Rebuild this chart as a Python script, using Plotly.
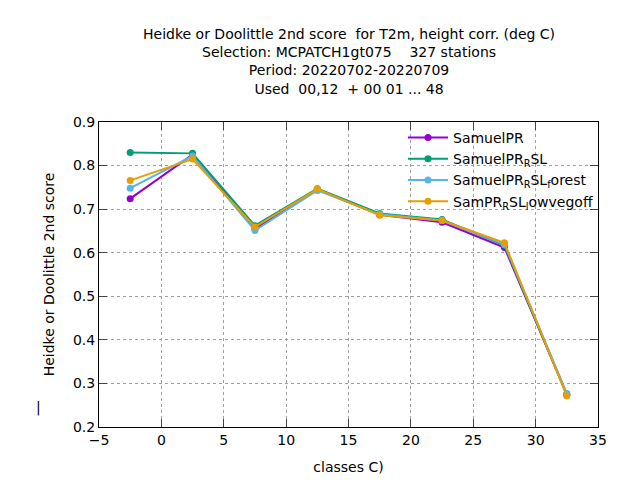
import plotly.graph_objects as go

classes = [-2.5, 2.5, 7.5, 12.5, 17.5, 22.5, 27.5, 32.5]
samuel_pr = [0.724, 0.825, 0.655, 0.745, 0.687, 0.670, 0.612, 0.275]
samuel_pr_rsl = [0.830, 0.828, 0.662, 0.747, 0.690, 0.676, 0.617, 0.273]
samuel_pr_rsl_forest = [0.748, 0.822, 0.651, 0.743, 0.688, 0.674, 0.619, 0.277]
sampr_rsl_lowvegoff = [0.766, 0.815, 0.659, 0.746, 0.686, 0.674, 0.623, 0.272]

series = [
    ("SamuelPR", samuel_pr, "#9400d3"),
    ("SamuelPR<sub>R</sub>SL", samuel_pr_rsl, "#009e73"),
    ("SamuelPR<sub>R</sub>SL<sub>f</sub>orest", samuel_pr_rsl_forest, "#56b4e9"),
    ("SamPR<sub>R</sub>SL<sub>l</sub>owvegoff", sampr_rsl_lowvegoff, "#e69f00"),
]

fig = go.Figure()
for name, ys, col in series:
    fig.add_trace(go.Scatter(x=classes, y=ys, mode="lines+markers", name=name,
                             line=dict(color=col, width=2),
                             marker=dict(color=col, size=7)))

axis = dict(showline=True, linecolor="black", mirror="ticks", ticks="inside",
            ticklen=8, showgrid=True, gridcolor="#a0a0a0", griddash="dot",
            zeroline=False, tickfont=dict(size=14, color="black"))
fig.update_xaxes(range=[-5, 35], dtick=5, title=dict(text="classes C)", font=dict(size=14)), **axis)
fig.update_yaxes(range=[0.2, 0.9], dtick=0.1, tickformat=".1f",
                 title=dict(text="Heidke or Doolittle 2nd score", font=dict(size=14)), **axis)

title = ("Heidke or Doolittle 2nd score  for T2m, height corr. (deg C)<br>"
         "Selection: MCPATCH1gt075    327 stations<br>Period: 20220702-20220709<br>"
         "Used  00,12  + 00 01 ... 48")

fig.update_layout(
    width=640, height=480, plot_bgcolor="white", paper_bgcolor="white",
    font=dict(family="DejaVu Sans", color="black"),
    margin=dict(l=91, r=50, t=114, b=61),
    annotations=[dict(text=title, xref="paper", yref="paper", x=0.5, y=1.32,
                      xanchor="center", yanchor="top", showarrow=False,
                      font=dict(size=14)),
                 dict(text="|", xref="paper", yref="paper", x=-0.13, y=0.03,
                      showarrow=False, font=dict(size=14))],
    legend=dict(x=1.0, y=1.0, xanchor="right", yanchor="top", bgcolor="rgba(0,0,0,0)",
                font=dict(size=14), itemwidth=40),
)
fig.write_html("out.html")
